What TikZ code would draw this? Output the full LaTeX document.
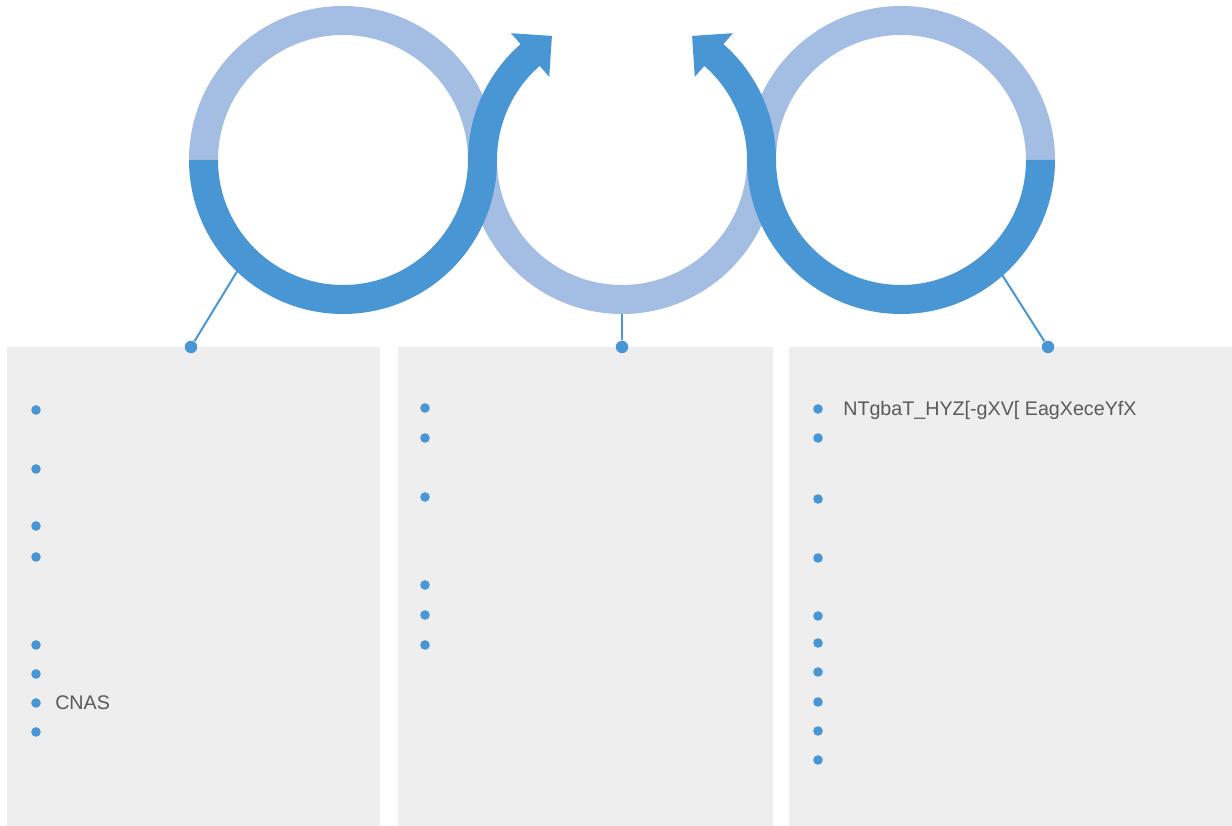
\documentclass[tikz,border=0pt]{standalone}
\usepackage{fontspec}
\setmainfont{Liberation Sans}
\usetikzlibrary{positioning}
\definecolor{ringdark}{RGB}{72,150,212}
\definecolor{ringlight}{RGB}{164,189,227}
\definecolor{panelgray}{RGB}{238,238,238}
\definecolor{textgray}{RGB}{90,90,90}

\begin{document}
\begin{tikzpicture}[x=0.025cm, y=0.025cm,
panel/.style={fill=panelgray},
pin dot/.style={circle,fill=ringdark,draw=white,line width=0.3pt,inner sep=0pt,minimum size=0.33cm},
bullet/.style={circle,fill=ringdark,inner sep=0pt,minimum size=0.24cm},
item text/.style={anchor=base west,inner sep=0pt,text=textgray,font=\fontsize{14}{16}\selectfont},
pin line/.style={draw=ringdark,line width=0.05cm}]

\useasboundingbox (0,0) rectangle (1232,826);

% panels
\fill[panel] (7,0) rectangle (380,479);
\fill[panel] (398,0) rectangle (773,479);
\fill[panel] (789,0) rectangle (1232,479);

% pins
\coordinate (ringL) at (241,561);
\coordinate (ringM) at (622,520);
\coordinate (ringR) at (999,556);
\node[pin dot] (dotL) at (191,479) {};
\node[pin dot] (dotM) at (622,479) {};
\node[pin dot] (dotR) at (1048,479) {};
\draw[pin line] (ringL) -- (dotL);
\draw[pin line] (ringM) -- (dotM);
\draw[pin line] (ringR) -- (dotR);

% light halves
\begin{scope}[shift={(343,666)}]
\fill[ringlight] (0:154) arc[start angle=0,end angle=180,radius=154] -- (180:125) arc[start angle=180,end angle=0,radius=125] -- cycle;
\end{scope}
\begin{scope}[shift={(622,666)}]
\fill[ringlight] (180:154) arc[start angle=180,end angle=360,radius=154] -- (0:125) arc[start angle=360,end angle=180,radius=125] -- cycle;
\end{scope}
\begin{scope}[shift={(901,666)}]
\fill[ringlight] (0:154) arc[start angle=0,end angle=180,radius=154] -- (180:125) arc[start angle=180,end angle=0,radius=125] -- cycle;
\end{scope}

% dark halves
\begin{scope}[shift={(343,666)}]
\fill[ringdark] (180:154) arc[start angle=180,end angle=360,radius=154] -- (0:125) arc[start angle=360,end angle=180,radius=125] -- cycle;
\end{scope}
\begin{scope}[shift={(901,666)}]
\fill[ringdark] (180:154) arc[start angle=180,end angle=360,radius=154] -- (0:125) arc[start angle=360,end angle=180,radius=125] -- cycle;
\end{scope}

% arrows
\begin{scope}[shift={(622,666)}]
\fill[ringdark] (180:154) arc[start angle=180,end angle=131.2,radius=154] -- (131.2:168.5) -- (119.46:142.5) -- (131.2:110.5) -- (131.2:125) arc[start angle=131.2,end angle=180,radius=125] -- cycle;
\fill[ringdark] (0:154) arc[start angle=0,end angle=48.8,radius=154] -- (48.8:168.5) -- (60.54:142.5) -- (48.8:110.5) -- (48.8:125) arc[start angle=48.8,end angle=0,radius=125] -- cycle;
\end{scope}

% bullets
\foreach \y in {416,357,300,269,181,152,123,94}
  \node[bullet] (bl\y) at (36,\y) {};
\foreach \y in {418,388,329,241,211,181}
  \node[bullet] (bm\y) at (425,\y) {};
\foreach \y in {417,388,327,268,210,183,154,124,95,66}
  \node[bullet] (br\y) at (818,\y) {};

\node[item text] (cnas) at (55,116) {CNAS};
\node[item text] (first) at (843,410) {NTgbaT\_HYZ[-gXV[ EagXeceYfX};
\end{tikzpicture}
\end{document}
